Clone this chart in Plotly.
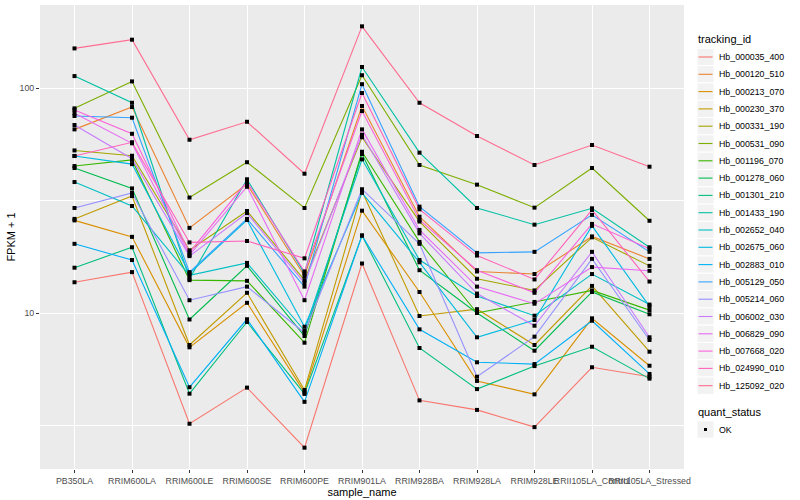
import plotly.graph_objects as go

# ---------------- data ----------------
samples = ["PB350LA", "RRIM600LA", "RRIM600LE", "RRIM600SE", "RRIM600PE",
           "RRIM901LA", "RRIM928BA", "RRIM928LA", "RRIM928LE",
           "RRII105LA_Control", "RRII105LA_Stressed"]

tracking_ids = ["Hb_000035_400", "Hb_000120_510", "Hb_000213_070", "Hb_000230_370",
                "Hb_000331_190", "Hb_000531_090", "Hb_001196_070", "Hb_001278_060",
                "Hb_001301_210", "Hb_001433_190", "Hb_002652_040", "Hb_002675_060",
                "Hb_002883_010", "Hb_005129_050", "Hb_005214_060", "Hb_006002_030",
                "Hb_006829_090", "Hb_007668_020", "Hb_024990_010", "Hb_125092_020"]

colors = ["#F8766D", "#EA8331", "#D89000", "#C09B00", "#A3A500", "#7CAE00",
          "#39B600", "#00BB4E", "#00BF7D", "#00C1A3", "#00BFC4", "#00BAE0",
          "#00B0F6", "#35A2FF", "#9590FF", "#C77CFF", "#E76BF3", "#FA62DB",
          "#FF62BC", "#FF6C91"]

# FPKM + 1 per sample (same order as samples)
Hb_000035_400 = [13.7, 15.2, 3.22, 4.66, 2.52, 16.6, 4.09, 3.71, 3.11, 5.74, 5.21]
Hb_000120_510 = [65.5, 82.3, 23.9, 37.4, 14.6, 83.2, 26.8, 15.3, 14.9, 21.9, 17.4]
Hb_000213_070 = [25.8, 21.8, 7.04, 11.1, 4.44, 28.5, 12.4, 4.99, 4.35, 9.47, 5.83]
Hb_000230_370 = [26.2, 33.1, 7.21, 12.3, 4.55, 34.8, 9.70, 10.4, 7.21, 13.2, 6.73]
Hb_000331_190 = [52.8, 50.0, 19.0, 28.4, 14.0, 60.4, 25.5, 14.2, 12.6, 21.7, 16.2]
Hb_000531_090 = [81.2, 107.0, 32.6, 46.8, 29.3, 114.0, 45.5, 37.2, 29.4, 44.1, 25.7]
Hb_001196_070 = [45.0, 47.9, 14.0, 13.9, 7.38, 52.1, 20.7, 10.0, 11.2, 12.6, 10.3]
Hb_001278_060 = [44.1, 35.8, 9.36, 16.2, 7.90, 50.9, 15.5, 10.0, 6.80, 12.4, 9.87]
Hb_001301_210 = [15.9, 19.6, 4.38, 9.12, 4.37, 22.1, 6.99, 4.59, 5.81, 7.08, 5.11]
Hb_001433_190 = [113.0, 86.0, 14.2, 39.3, 15.0, 124.0, 51.6, 29.3, 24.7, 29.2, 19.6]
Hb_002652_040 = [38.2, 29.9, 14.7, 16.7, 8.34, 48.2, 17.2, 11.9, 9.73, 14.9, 10.9]
Hb_002675_060 = [49.9, 45.9, 15.0, 25.9, 8.69, 34.2, 16.8, 7.80, 9.31, 24.4, 10.7]
Hb_002883_010 = [20.3, 17.2, 4.68, 9.38, 4.03, 22.1, 8.46, 6.04, 5.93, 9.24, 5.36]
Hb_005129_050 = [75.1, 73.8, 15.2, 26.2, 13.1, 104.0, 29.7, 18.5, 18.7, 27.3, 18.7]
Hb_005214_060 = [29.3, 34.2, 11.4, 13.1, 8.17, 35.5, 20.3, 5.21, 7.85, 17.4, 7.59]
Hb_006002_030 = [68.5, 48.5, 17.9, 27.8, 13.6, 62.0, 22.6, 12.2, 8.78, 18.7, 7.80]
Hb_006829_090 = [77.2, 56.8, 18.1, 36.4, 11.4, 65.5, 23.4, 13.1, 11.0, 16.0, 15.4]
Hb_007668_020 = [79.9, 62.6, 18.6, 38.3, 15.3, 79.0, 25.9, 15.5, 12.3, 24.9, 19.3]
Hb_024990_010 = [49.9, 57.4, 20.6, 20.9, 17.5, 95.0, 28.9, 18.0, 14.1, 28.7, 13.8]
Hb_125092_020 = [150.0, 164.0, 58.9, 70.8, 41.6, 188.0, 86.0, 61.2, 45.5, 55.8, 44.7]

series = [Hb_000035_400, Hb_000120_510, Hb_000213_070, Hb_000230_370, Hb_000331_190,
          Hb_000531_090, Hb_001196_070, Hb_001278_060, Hb_001301_210, Hb_001433_190,
          Hb_002652_040, Hb_002675_060, Hb_002883_010, Hb_005129_050, Hb_005214_060,
          Hb_006002_030, Hb_006829_090, Hb_007668_020, Hb_024990_010, Hb_125092_020]

quant_status = ["OK"]

y_ticks = [10, 100]
y_tick_text = ["10", "100"]
y_minor = [10 ** 0.5, 10 ** 1.5]

# ---------------- figure ----------------
FONT = "Liberation Sans, Arial, Helvetica, sans-serif"
W, H = 800, 500
ML, MR, MT, MB = 40, 116, 5, 31
PW, PH = W - ML - MR, H - MT - MB

fig = go.Figure()

for name, col, vals in zip(tracking_ids, colors, series):
    fig.add_trace(go.Scatter(x=samples, y=vals, mode="lines", name=name,
                             line=dict(color=col, width=1.1), showlegend=False,
                             hoverinfo="skip"))

all_x, all_y = [], []
for vals in series:
    all_x += samples
    all_y += vals
fig.add_trace(go.Scatter(x=all_x, y=all_y, mode="markers", name="OK",
                         marker=dict(symbol="square", size=4, color="black"),
                         showlegend=False))

fig.update_layout(
    width=W, height=H,
    margin=dict(l=ML, r=MR, t=MT, b=MB, autoexpand=False),
    paper_bgcolor="white", plot_bgcolor="#EBEBEB",
    font=dict(family=FONT, size=11, color="black"),
    showlegend=False,
)

fig.update_xaxes(
    type="category", categoryorder="array", categoryarray=samples,
    range=[-0.6, len(samples) - 0.4],
    showgrid=True, gridcolor="white", gridwidth=1.1, zeroline=False,
    ticks="outside", ticklen=3, tickwidth=1.1, tickcolor="#333333",
    tickangle=0, tickfont=dict(family=FONT, size=8.8, color="#4D4D4D"),
    showline=False,
    title=dict(text="sample_name", font=dict(family=FONT, size=11, color="black"), standoff=0),
)

fig.update_yaxes(
    type="log", range=[0.3067, 2.369],
    tickmode="array", tickvals=y_ticks, ticktext=y_tick_text,
    showgrid=True, gridcolor="white", gridwidth=1.1, zeroline=False,
    minor=dict(tickmode="array", tickvals=y_minor, showgrid=True,
               gridcolor="white", gridwidth=0.55, ticks=""),
    ticks="outside", ticklen=3, tickwidth=1.1, tickcolor="#333333",
    tickfont=dict(family=FONT, size=8.8, color="#4D4D4D"),
    showline=False,
    title=dict(text="FPKM + 1", font=dict(family=FONT, size=11, color="black"), standoff=1),
)

# ---------------- manual ggplot-style legend ----------------
def px(xpix):
    return (xpix - ML) / PW

def py(ypix):
    return (H - MB - ypix) / PH

shapes, annots = [], []
LX0, LX1 = 697, 714
TX = 717
step = 17.3
first = 57

annots.append(dict(x=px(696), y=py(39), xref="paper", yref="paper", text="tracking_id",
                   showarrow=False, xanchor="left", yanchor="middle",
                   font=dict(family=FONT, size=11, color="black")))
for i, (name, col) in enumerate(zip(tracking_ids, colors)):
    yc = first + i * step
    shapes.append(dict(type="rect", xref="paper", yref="paper",
                       x0=px(LX0), x1=px(LX1), y0=py(yc - step / 2), y1=py(yc + step / 2),
                       fillcolor="#F2F2F2", line=dict(color="white", width=1), layer="above"))
    shapes.append(dict(type="line", xref="paper", yref="paper",
                       x0=px(LX0 + 1.5), x1=px(LX1 - 1.5), y0=py(yc), y1=py(yc),
                       line=dict(color=col, width=1.1), layer="above"))
    annots.append(dict(x=px(TX), y=py(yc), xref="paper", yref="paper", text=name,
                       showarrow=False, xanchor="left", yanchor="middle",
                       font=dict(family=FONT, size=8.8, color="black")))

annots.append(dict(x=px(696), y=py(411.5), xref="paper", yref="paper", text="quant_status",
                   showarrow=False, xanchor="left", yanchor="middle",
                   font=dict(family=FONT, size=11, color="black")))
for j, q in enumerate(quant_status):
    yc = 429.5 + j * step
    shapes.append(dict(type="rect", xref="paper", yref="paper",
                       x0=px(LX0), x1=px(LX1), y0=py(yc - step / 2), y1=py(yc + step / 2),
                       fillcolor="#F2F2F2", line=dict(color="white", width=1), layer="above"))
    shapes.append(dict(type="rect", xref="paper", yref="paper",
                       x0=px(704), x1=px(707), y0=py(yc - 1.5), y1=py(yc + 1.5),
                       fillcolor="black", line=dict(width=0), layer="above"))
    annots.append(dict(x=px(TX), y=py(yc), xref="paper", yref="paper", text=q,
                       showarrow=False, xanchor="left", yanchor="middle",
                       font=dict(family=FONT, size=8.8, color="black")))

fig.update_layout(shapes=shapes, annotations=annots)

fig.write_html("out.html", config={"displayModeBar": False},
               post_script="document.body.style.margin='0';document.body.style.padding='0';")
